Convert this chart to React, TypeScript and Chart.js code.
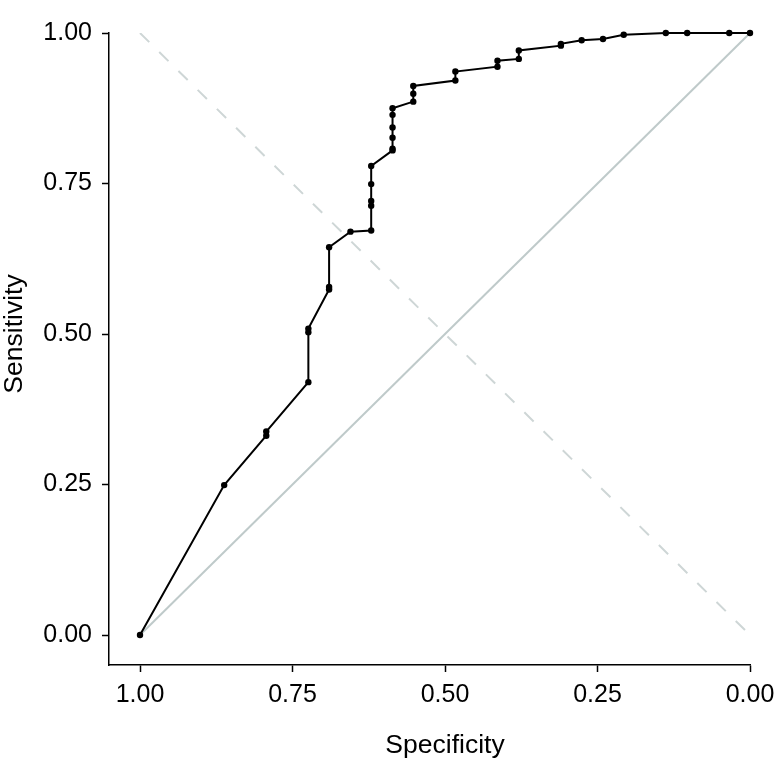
import React, { useEffect, useRef } from "react";
import { Chart, registerables } from "chart.js";

Chart.register(...registerables);

// ROC curve points (specificity, sensitivity)
const specificity = [
  1.0, 0.862, 0.793, 0.793, 0.724, 0.724, 0.724, 0.69, 0.69, 0.69,
  0.655, 0.621, 0.621, 0.621, 0.621, 0.621, 0.586, 0.586, 0.586, 0.586,
  0.586, 0.586, 0.552, 0.552, 0.552, 0.483, 0.483, 0.414, 0.414, 0.379,
  0.379, 0.31, 0.31, 0.276, 0.241, 0.207, 0.138, 0.103, 0.034, 0.0,
];
const sensitivity = [
  0.0, 0.249, 0.331, 0.338, 0.42, 0.503, 0.509, 0.574, 0.578, 0.644,
  0.67, 0.672, 0.713, 0.721, 0.749, 0.779, 0.805, 0.808, 0.826, 0.843,
  0.864, 0.875, 0.886, 0.899, 0.912, 0.921, 0.936, 0.944, 0.954, 0.957,
  0.971, 0.979, 0.982, 0.988, 0.99, 0.997, 1.0, 1.0, 1.0, 1.0,
];

// Reference lines
const chanceX = [1, 0];
const chanceY = [0, 1];
const crossX = [1, 0];
const crossY = [1, 0];

const tickValues = [0, 0.25, 0.5, 0.75, 1];
const xTitle = "Specificity";
const yTitle = "Sensitivity";

const FONT = "'Liberation Sans', Arial, sans-serif";

export default function App() {
  const ref = useRef<HTMLCanvasElement | null>(null);

  useEffect(() => {
    if (!ref.current) return;
    const toPts = (xs: number[], ys: number[]) => xs.map((x, i) => ({ x, y: ys[i] }));

    const titlePlugin = {
      id: "centeredTitles",
      afterDraw(chart: any) {
        const ctx = chart.ctx;
        const xs = chart.scales.x;
        const ys = chart.scales.y;
        ctx.save();
        ctx.fillStyle = "#000";
        ctx.font = `26.5px ${FONT}`;
        ctx.textAlign = "center";
        ctx.textBaseline = "alphabetic";
        ctx.fillText(xTitle, xs.getPixelForValue(0.5), 753);
        ctx.translate(22, ys.getPixelForValue(0.5));
        ctx.rotate(-Math.PI / 2);
        ctx.fillText(yTitle, 0, 0);
        ctx.restore();
      },
    };

    const tickFont = { size: 25, family: FONT };

    const chart = new Chart(ref.current, {
      type: "scatter",
      data: {
        datasets: [
          {
            data: toPts(specificity, sensitivity),
            showLine: true,
            borderColor: "#000",
            backgroundColor: "#000",
            borderWidth: 2,
            pointRadius: 3.2,
            pointBorderWidth: 0,
            pointBackgroundColor: "#000",
            clip: false as any,
          },
          {
            data: toPts(chanceX, chanceY),
            showLine: true,
            borderColor: "#bfcaca",
            borderWidth: 2,
            pointRadius: 0,
          },
          {
            data: toPts(crossX, crossY),
            showLine: true,
            borderColor: "#ced6d6",
            borderWidth: 2,
            borderDash: [13, 14],
            pointRadius: 0,
          },
        ],
      },
      options: {
        animation: false,
        responsive: false,
        layout: { padding: { top: 33, right: 33, left: 0, bottom: 0 } },
        plugins: { legend: { display: false }, tooltip: { enabled: false } },
        scales: {
          x: {
            type: "linear",
            reverse: true,
            min: 0,
            max: 641 / 610,
            afterBuildTicks: (s: any) => {
              s.ticks = tickValues.map((v) => ({ value: v }));
            },
            afterFit: (s: any) => {
              s.height = 99;
            },
            ticks: {
              color: "#000",
              font: tickFont,
              padding: 8,
              maxRotation: 0,
              callback: (v: any) => Number(v).toFixed(2),
            },
            grid: {
              display: true,
              drawOnChartArea: false,
              drawTicks: true,
              tickLength: 7,
              tickColor: "#000",
              tickWidth: 1.5,
            },
            border: { display: true, color: "#000", width: 1.5 },
          },
          y: {
            type: "linear",
            min: 1 - 632 / 602,
            max: 1,
            afterBuildTicks: (s: any) => {
              s.ticks = tickValues.map((v) => ({ value: v }));
            },
            afterFit: (s: any) => {
              s.width = 109;
            },
            ticks: {
              color: "#000",
              font: tickFont,
              padding: 10,
              callback: (v: any) => Number(v).toFixed(2),
            },
            grid: {
              display: true,
              drawOnChartArea: false,
              drawTicks: true,
              tickLength: 7,
              tickColor: "#000",
              tickWidth: 1.5,
            },
            border: { display: true, color: "#000", width: 1.5 },
          },
        },
      },
      plugins: [titlePlugin],
    });
    return () => chart.destroy();
  }, []);

  return (
    <div style={{ position: "fixed", left: 0, top: 0, width: 783, height: 764, background: "#fff" }}>
      <canvas ref={ref} width={783} height={764} />
    </div>
  );
}
